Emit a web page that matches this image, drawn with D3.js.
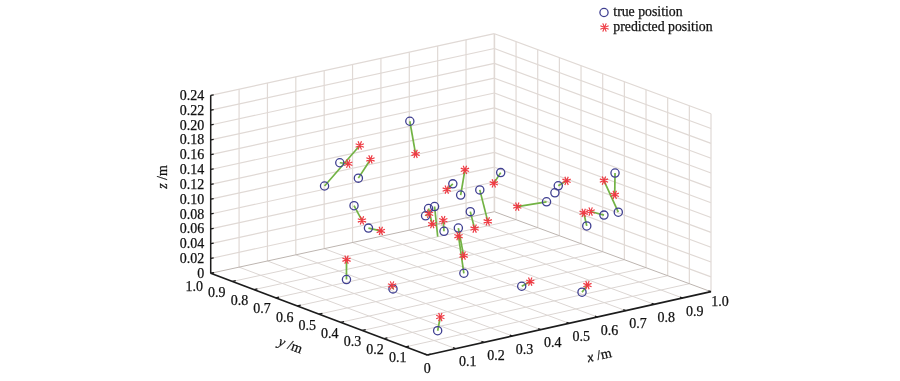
<!DOCTYPE html>
<html><head><meta charset="utf-8">
<script src="https://cdn.jsdelivr.net/npm/d3@7/dist/d3.min.js"></script>
<style>
html,body{margin:0;padding:0;background:#fff}
svg{display:block;filter:blur(0.4px)}
text{font-family:"Liberation Serif",serif;fill:#111;stroke:#111;stroke-width:0.25px}
</style></head><body>
<svg id="c" width="900" height="381"></svg>
<script>
// [x, y, z] in metres
const truePositions = [
 [0.244,0.794,0.12],[0.284,0.776,0.15],[0.322,0.740,0.13],[0.466,0.691,0.20],
 [0.542,0.592,0.12],[0.581,0.607,0.10],[0.566,0.499,0.12],[0.671,0.540,0.13],
 [0.325,0.764,0.09],[0.356,0.738,0.06],[0.222,0.664,0.01],[0.270,0.512,0.01],
 [0.122,0.112,0.01],[0.432,0.397,0.03],[0.424,0.412,0.09],[0.592,0.577,0.08],
 [0.549,0.642,0.05],[0.499,0.620,0.09],[0.474,0.615,0.09],[0.468,0.621,0.08],
 [0.731,0.407,0.10],[0.764,0.396,0.12],[0.759,0.405,0.11],[0.853,0.381,0.06],
 [0.867,0.320,0.08],[0.916,0.318,0.08],[0.877,0.282,0.14],[0.571,0.312,0.01],
 [0.669,0.162,0.01]
];
// same order as truePositions; null = no prediction visible
const predictedPositions = [
 [0.343,0.761,0.17],[0.297,0.754,0.15],[0.328,0.692,0.16],[0.461,0.658,0.16],
 [0.539,0.616,0.11],[0.564,0.565,0.14],[0.617,0.529,0.07],[0.636,0.526,0.12],
 [0.343,0.751,0.07],[0.411,0.753,0.05],[0.252,0.703,0.03],[0.288,0.540,0.01],
 [0.165,0.156,0.02],[0.420,0.406,0.08],[0.448,0.419,0.05],[0.589,0.553,0.06],
 [0.525,0.614,0.07],[0.504,0.612,0.05],[0.477,0.602,0.07],[0.488,0.631,0.08],
 [0.682,0.478,0.09],[0.768,0.363,0.13],null,[0.836,0.373,0.08],
 [0.859,0.371,0.08],[0.896,0.358,0.12],[0.879,0.286,0.11],[0.617,0.333,0.01],
 [0.679,0.150,0.02]
];
const starlessIndex = [17]; // line visible, asterisk not drawn in the source figure
const xyTicks = d3.range(0,11).map(i=>i/10);
const zTicks = d3.range(0,13).map(i=>i*0.02);
const legendLabels = ["true position","predicted position"];

const svg = d3.select("#c");
const ink="#1c1c1c", gridC="#e0d9d5", floorC="#dcd6d3", edgeC="#bdb5b0";
const blue="#3f3f91", red="#ee3a43", green="#72b344";

const xH=d3.scaleLinear([0,1],[0,283.7]), xV=d3.scaleLinear([0,1],[0,-63.3]);
const yH=d3.scaleLinear([0,1],[0,-216.6]), yV=d3.scaleLinear([0,1],[0,-81.7]);
const zV=d3.scaleLinear([0,0.24],[0,-178]);
const ox=427.3, oy=355, warp=1.7;
const P=(x,y,z)=>[ox+xH(x)+yH(y), oy+xV(x)+yV(y)+zV(z)+warp*x*y];

const line=(g,a,b,c,w)=>g.append("line").attr("x1",a[0]).attr("y1",a[1]).attr("x2",b[0]).attr("y2",b[1])
  .attr("stroke",c).attr("stroke-width",w);

// walls and floor grid
const grid=svg.append("g");
xyTicks.forEach(v=>{
  if(v>0){
    line(grid,P(v,1,0),P(v,1,0.24),gridC,v===1?1.6:1.2);
    if(v<1) line(grid,P(1,v,0),P(1,v,0.24),gridC,1.2);
  }
  if(v===0){
    line(grid,P(0,1,0),P(0,1,0.24),gridC,1.2);
    line(grid,P(1,0,0),P(1,0,0.24),gridC,1.2);
  }
  if(v>0&&v<1){
    line(grid,P(v,0,0),P(v,1,0),floorC,1);
    line(grid,P(0,v,0),P(1,v,0),floorC,1);
  }
});
zTicks.forEach(z=>{
  if(z>0){
    line(grid,P(0,1,z),P(1,1,z),gridC,1.2);
    line(grid,P(1,1,z),P(1,0,z),gridC,1.2);
  }
});
line(grid,P(0,1,0),P(1,1,0),edgeC,1);
line(grid,P(1,1,0),P(1,0,0),edgeC,1);

// axes
const ax=svg.append("g");
line(ax,P(0,0,0),P(1,0,0),ink,1.7);
line(ax,P(0,0,0),P(0,1,0),ink,1.7);
line(ax,P(0,1,0),P(0,1,0.24),ink,1.5);
const tick=0.012;
xyTicks.forEach(v=>{
  line(ax,P(v,0,0),P(v,tick,0),ink,1.3);
  line(ax,P(0,v,0),P(tick,v,0),ink,1.3);
});
zTicks.forEach(z=>{
  const a=P(0,1,z); line(ax,a,[a[0]+3,a[1]-0.5],ink,1.2);
});

// tick labels
const labels=svg.append("g").attr("font-size",14);
const fmt=v=>v===0?"0":v.toFixed(1);
xyTicks.forEach(v=>{
  const p=P(v,0,0), dx=v===0?0:v===1?9:12, dy=v===0?13:v===1?10:13;
  labels.append("text").attr("x",p[0]+dx).attr("y",p[1]+dy).attr("dy","0.33em").attr("text-anchor","middle").text(fmt(v));
  if(v>0){
    const q=P(0,v,0);
    labels.append("text").attr("x",q[0]-7-9.5*v).attr("y",q[1]+(v===1?13:11)).attr("dy","0.33em").attr("text-anchor","middle").text(fmt(v));
  }
});
zTicks.forEach(z=>{
  const p=P(0,1,z);
  labels.append("text").attr("x",p[0]-6.5).attr("y",p[1]).attr("dy","0.33em").attr("text-anchor","end")
    .text(z===0?"0":z.toFixed(2));
});

// axis titles
const title=(cx,cy,rot,s)=>{
  const t=labels.append("text").attr("transform",`translate(${cx},${cy}) rotate(${rot})`).attr("text-anchor","middle").attr("dy","0.33em");
  t.append("tspan").attr("font-style","italic").text(s);
  t.append("tspan").text(" /m");
};
title(599.3,355,-12.6,"x");
title(290.7,345,20.7,"y");
title(162,177,-90,"z");

// marks
const asterisk={draw(ctx,size){
  const r=Math.sqrt(size);
  for(let i=0;i<4;i++){
    const a=i*Math.PI/4+Math.PI/8;
    ctx.moveTo(-r*Math.cos(a),-r*Math.sin(a));
    ctx.lineTo(r*Math.cos(a),r*Math.sin(a));
  }
}};
const starPath=d3.symbol().type(asterisk).size(20)();
const marks=svg.append("g");
const pairs=truePositions.map((t,i)=>({t,p:predictedPositions[i],i}));
marks.selectAll(".link").data(pairs.filter(d=>d.p)).join("line")
  .attr("x1",d=>P(...d.t)[0]).attr("y1",d=>P(...d.t)[1])
  .attr("x2",d=>P(...d.p)[0]).attr("y2",d=>P(...d.p)[1])
  .attr("stroke",green).attr("stroke-width",1.7);
marks.selectAll(".t").data(truePositions).join("circle")
  .attr("cx",d=>P(...d)[0]).attr("cy",d=>P(...d)[1]).attr("r",4.1)
  .attr("fill","none").attr("stroke",blue).attr("stroke-width",1.3);
marks.selectAll(".p").data(pairs.filter(d=>d.p&&!starlessIndex.includes(d.i))).join("path")
  .attr("d",starPath).attr("transform",d=>`translate(${P(...d.p)})`)
  .attr("fill","none").attr("stroke",red).attr("stroke-width",1.2);

// legend
const lg=svg.append("g").attr("font-size",13.8);
lg.append("circle").attr("cx",604).attr("cy",12.5).attr("r",4.1).attr("fill","none").attr("stroke",blue).attr("stroke-width",1.3);
lg.append("path").attr("d",starPath).attr("transform","translate(604.5,27.5)").attr("fill","none").attr("stroke",red).attr("stroke-width",1.2);
legendLabels.forEach((s,i)=>lg.append("text").attr("x",613.3).attr("y",15.5+i*15.2).text(s));
</script>
</body></html>
